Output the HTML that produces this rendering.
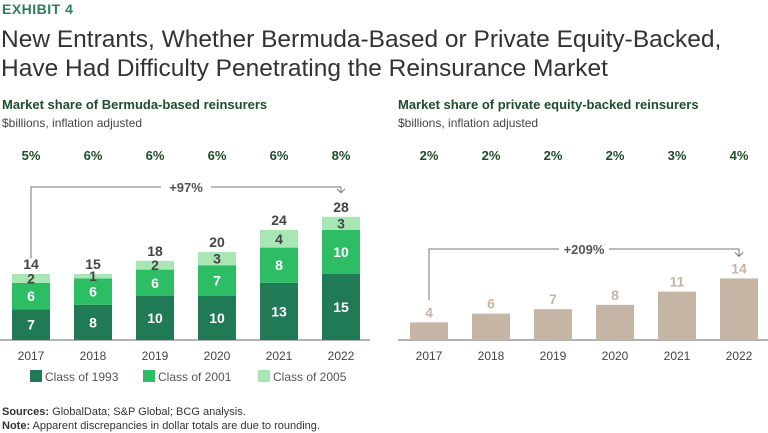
<!DOCTYPE html>
<html><head><meta charset="utf-8"><style>
body{margin:0;width:768px;height:433px;background:#fff;font-family:"Liberation Sans",sans-serif;overflow:hidden;position:relative}
.t{position:absolute;white-space:nowrap}
</style></head><body>
<div class="t" style="left:2px;top:1px;font-size:14px;font-weight:bold;color:#29805a;letter-spacing:0.5px">EXHIBIT 4</div>
<div class="t" style="left:1px;top:25px;font-size:24.5px;color:#333;line-height:29px">New Entrants, Whether Bermuda-Based or Private Equity-Backed,<br>Have Had Difficulty Penetrating the Reinsurance Market</div>
<div class="t" style="left:2px;top:97px;font-size:13px;font-weight:bold;color:#1d4d2c">Market share of Bermuda-based reinsurers</div>
<div class="t" style="left:2px;top:116px;font-size:12px;color:#444">$billions, inflation adjusted</div>
<div class="t" style="left:398px;top:97px;font-size:13px;font-weight:bold;color:#1d4d2c">Market share of private equity-backed reinsurers</div>
<div class="t" style="left:398px;top:116px;font-size:12px;color:#444">$billions, inflation adjusted</div>
<svg id="chart" width="768" height="433" style="position:absolute;left:0;top:0"></svg>
<div class="t" style="left:2px;top:405px;font-size:11px;color:#333;line-height:14px"><b>Sources:</b> GlobalData; S&amp;P Global; BCG analysis.<br><b>Note:</b> Apparent discrepancies in dollar totals are due to rounding.</div>
<script>
const years=["2017","2018","2019","2020","2021","2022"];
const c1993=[7,8,10,10,13,15];
const c2001=[6,6,6,7,8,10];
const c2005=[2,1,2,3,4,3];
const totals=[14,15,18,20,24,28];
const shareBermuda=["5%","6%","6%","6%","6%","8%"];
const pe=[4,6,7,8,11,14];
const sharePE=["2%","2%","2%","2%","3%","4%"];
const growthL="+97%", growthR="+209%";
const svg=document.getElementById('chart');const NS="http://www.w3.org/2000/svg";
function el(t,a,txt){const e=document.createElementNS(NS,t);for(const k in a)e.setAttribute(k,a[k]);if(txt!=null)e.textContent=txt;svg.appendChild(e);return e;}
const base=340,k=4.4,bw=38;
const xL=i=>12+i*62, xR=i=>410+i*62, y=v=>base-v*k;
let a=el('line',{x1:0,x2:370,y1:base,y2:base,stroke:'#666','stroke-width':1});

a=el('line',{x1:398,x2:768,y1:base,y2:base,stroke:'#666','stroke-width':1});

const cols=['#1f7a55','#2dbe65','#a8e6b5'];
years.forEach((yr,i)=>{
  let segs=[c1993[i],c2001[i],c2005[i]],acc=0;
  segs.forEach((v,j)=>{
    let r=el('rect',{x:xL(i),y:y(acc+v),width:bw,height:v*k,fill:cols[j]});
    
    
    let tt=el('text',{x:xL(i)+bw/2,y:y(acc+v/2)+5,'text-anchor':'middle','font-size':14,'font-weight':'bold',fill:j==2?'#444':'#fff'},v);
    
    acc+=v;
  });
  let t=el('text',{x:xL(i)+bw/2,y:y(acc)-5,'text-anchor':'middle','font-size':14,'font-weight':'bold',fill:'#444'},totals[i]);
  
  t=el('text',{x:xL(i)+bw/2,y:360,'text-anchor':'middle','font-size':12,fill:'#444'},yr);
  
  t=el('text',{x:xL(i)+bw/2,y:160,'text-anchor':'middle','font-size':13,'font-weight':'bold',fill:'#1d4d2c'},shareBermuda[i]);
  
  let r=el('rect',{x:xR(i),y:y(pe[i]),width:bw,height:pe[i]*k,fill:'#c4b5a5'});
  
  t=el('text',{x:xR(i)+bw/2,y:y(pe[i])-5,'text-anchor':'middle','font-size':14,'font-weight':'bold',fill:'#c4b5a5'},pe[i]);
  
  t=el('text',{x:xR(i)+bw/2,y:360,'text-anchor':'middle','font-size':12,fill:'#444'},yr);
  
  t=el('text',{x:xR(i)+bw/2,y:160,'text-anchor':'middle','font-size':13,'font-weight':'bold',fill:'#1d4d2c'},sharePE[i]);
  
});
function bracket(x1,x2,yb,ys,ye,label,name){
  let p=el('path',{d:`M${x1},${ys} V${yb} H${x2} V${ye} M${x2-4},${ye-4} L${x2},${ye} L${x2+4},${ye-4}`,fill:'none',stroke:'#777','stroke-width':1});
  
  let mx=(x1+x2)/2;
  let r=el('rect',{x:mx-25,y:yb-8,width:50,height:16,fill:'#fff'});
  
  let t=el('text',{x:mx,y:yb+5,'text-anchor':'middle','font-size':13,'font-weight':'bold',fill:'#555'},label);
  
}
bracket(xL(0)+19,xL(5)+19,187,y(totals[0])-20,y(totals[5])-24,growthL,'left-growth-bracket');
bracket(xR(0)+19,xR(5)+19,249,y(pe[0])-22,y(pe[5])-22,growthR,'right-growth-bracket');
const leg=[['Class of 1993',30],['Class of 2001',143],['Class of 2005',258]];
leg.forEach((l,j)=>{
  let r=el('rect',{x:l[1],y:370,width:12,height:12,fill:cols[j]});
  
  let t=el('text',{x:l[1]+15,y:381,'font-size':12,fill:'#555'},l[0]);
  
});
</script>
</body></html>
